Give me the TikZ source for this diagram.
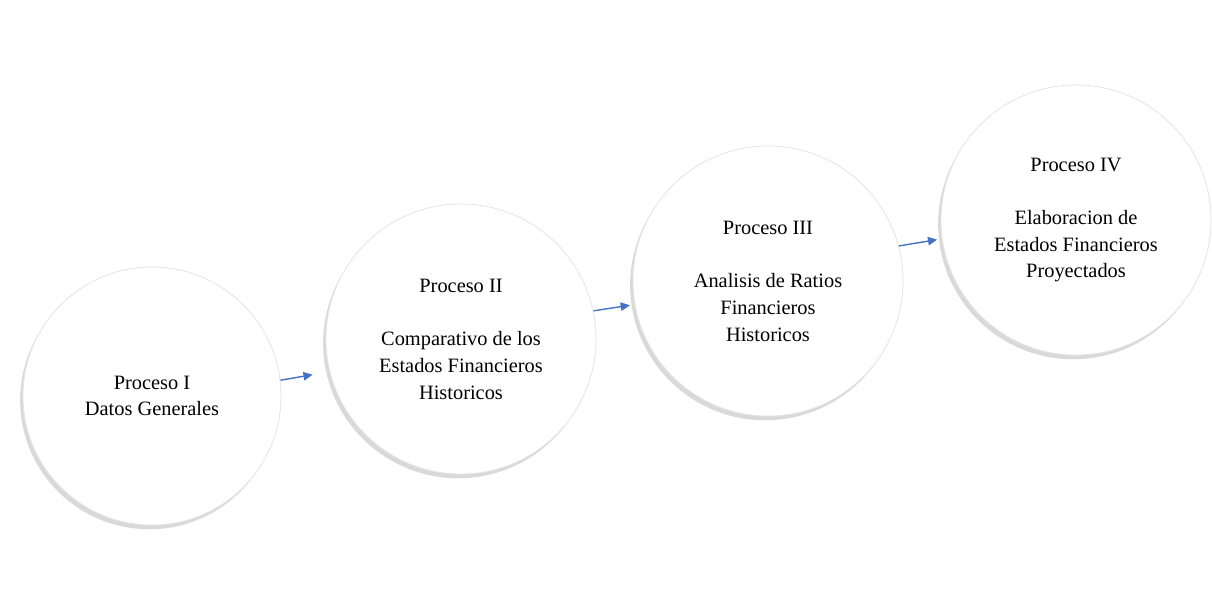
\documentclass[tikz,border=0pt]{standalone}
\usepackage{fontspec}
\setmainfont{Liberation Serif}
\usetikzlibrary{arrows.meta,shadows,positioning}
\definecolor{arrowblue}{HTML}{4472C4}
\tikzset{
  proceso/.style={circle, fill=white, draw=black!10, line width=0.6pt,
    minimum size=6.75cm, align=center, font=\fontsize{14.5}{19}\selectfont,
    drop shadow={shadow xshift=-2pt, shadow yshift=-3pt, fill=black, opacity=0.15}},
  flow/.style={draw=arrowblue, line width=1pt, -{Triangle[length=6.5pt,width=6pt]}}
}

\begin{document}
\begin{tikzpicture}[x=0.025cm, y=-0.025cm]
  \useasboundingbox (0,0) rectangle (1212,599);

  \node [proceso, minimum size=6.45cm] (p1) at (152,396) {Proceso I\\Datos Generales};
  \node [proceso] (p2) at (461,339) {Proceso II\\[19pt]Comparativo de los\\Estados Financieros\\Historicos};
  \node [proceso] (p3) at (768,281) {Proceso III\\[19pt]Analisis de Ratios\\Financieros\\Historicos};
  \node [proceso] (p4) at (1076,220) {Proceso IV\\[19pt]Elaboracion de\\Estados Financieros\\Proyectados};

  \foreach \a/\b/\s/\e/\g in {p1/p2/7/194/0.43cm, p2/p3/12/190/0.12cm, p3/p4/15/188/0.12cm} {
    \draw [flow, shorten >=\g] (\a.\s) -- (\b.\e);
  }
\end{tikzpicture}
\end{document}
